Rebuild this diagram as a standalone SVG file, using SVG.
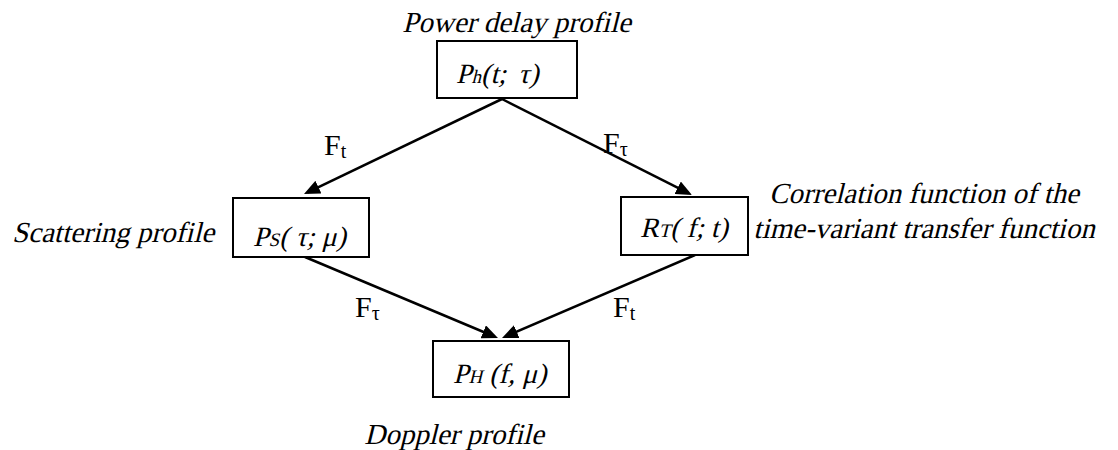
<svg xmlns="http://www.w3.org/2000/svg" width="1118" height="450" viewBox="0 0 1118 450">
<defs>
<style>
.bg{fill:#fff}
.box{fill:#fff;stroke:#000;stroke-width:2}
.edge{stroke:#000;stroke-width:2.5;fill:none;marker-end:url(#ah)}
</style>
<marker id="ah" viewBox="0 0 16 14" refX="12" refY="7" markerWidth="16" markerHeight="14" markerUnits="userSpaceOnUse" orient="auto">
<path d="M0,0 L16,7 L0,14 z" fill="#000"/>
</marker>
</defs>
<rect class="bg" x="0" y="0" width="1118" height="450"/>
<g id="connectors" font-family="Liberation Serif, Times New Roman, serif" font-size="30" fill="#000">
<line class="edge" x1="502" y1="99" x2="307.6" y2="192.3"/>
<line class="edge" x1="502" y1="99" x2="688.4" y2="193.2"/>
<line class="edge" x1="305" y1="257" x2="494.3" y2="336.5"/>
<line class="edge" x1="695" y1="255" x2="505.7" y2="336.4"/>
<text x="324" y="155">F<tspan font-size="20" dy="3">t</tspan></text>
<text x="603" y="153">F<tspan font-size="20" dy="3">τ</tspan></text>
<text x="355" y="317">F<tspan font-size="20" dy="3">τ</tspan></text>
<text x="613" y="317">F<tspan font-size="20" dy="3">t</tspan></text>
</g>
<g id="node-ph" font-family="Liberation Serif, Times New Roman, serif" fill="#000">
<rect class="box" x="437" y="41" width="140" height="57"/>
<text font-size="28" transform="translate(456,83) skewX(-14)">P<tspan font-size="19">h</tspan>(t; <tspan dx="5">τ)</tspan></text>
<text font-size="29" transform="translate(516.5,32) skewX(-14)" text-anchor="middle">Power delay profile</text>
</g>
<g id="node-ps" font-family="Liberation Serif, Times New Roman, serif" fill="#000">
<rect class="box" x="233" y="198" width="136" height="59"/>
<text font-size="28" transform="translate(253,246) skewX(-14)">P<tspan font-size="19">S</tspan>( τ; μ)</text>
<text font-size="29" transform="translate(12,242) skewX(-14)">Scattering profile</text>
</g>
<g id="node-rt" font-family="Liberation Serif, Times New Roman, serif" fill="#000">
<rect class="box" x="621" y="197" width="127" height="58"/>
<text font-size="28" transform="translate(640,237) skewX(-14)">R<tspan font-size="19">T</tspan>( f; t)</text>
<text font-size="29" transform="translate(924,203) skewX(-14)" text-anchor="middle">Correlation function of the</text>
<text font-size="29" transform="translate(924,238) skewX(-14)" text-anchor="middle">time-variant transfer function</text>
</g>
<g id="node-phf" font-family="Liberation Serif, Times New Roman, serif" fill="#000">
<rect class="box" x="433" y="341" width="136" height="56"/>
<text font-size="28" transform="translate(453,383) skewX(-14)">P<tspan font-size="19">H</tspan> (f, μ)</text>
<text font-size="29" transform="translate(454,444) skewX(-14)" text-anchor="middle">Doppler profile</text>
</g>
</svg>
